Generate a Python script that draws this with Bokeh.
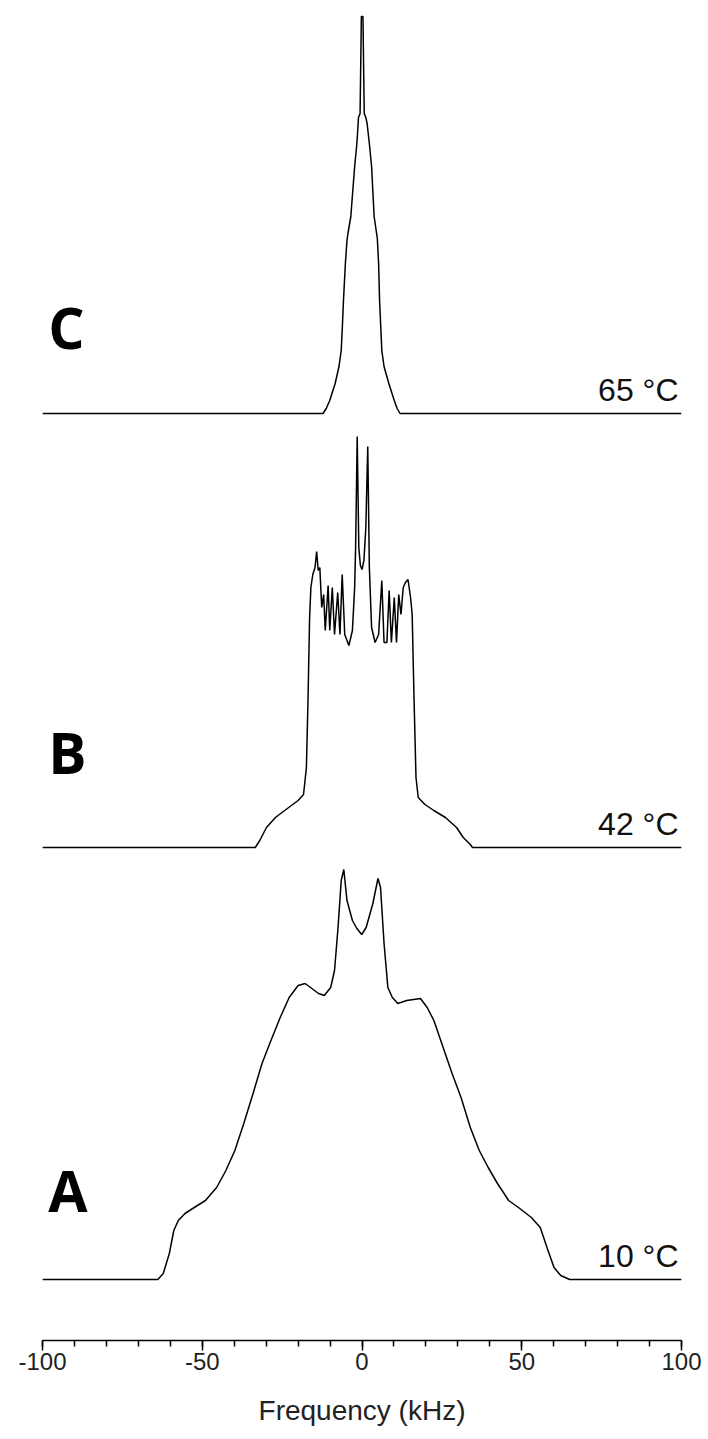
from bokeh.plotting import figure
from bokeh.embed import file_html
from bokeh.resources import INLINE
from bokeh.models import SingleIntervalTicker, Range1d
from bokeh.core.properties import value

# ---- data (frequency in kHz, intensity in arbitrary units) ----
freq_a = [-100, -63.9, -62.2, -60.3, -58.9, -57.5, -55.4, -52.5, -49.0, -45.5, -42.6, -39.8,
          -37.0, -34.1, -31.3, -28.5, -25.6, -22.8, -20.0, -17.8, -15.7, -13.6, -11.8, -9.8,
          -8.6, -7.5, -6.5, -5.7, -4.7, -3.0, -1.6, -0.1, 1.3, 3.4, 5.0, 5.8, 6.9, 8.1, 9.5,
          11.2, 14.0, 18.3, 20.4, 22.5, 25.4, 28.2, 31.0, 33.9, 36.7, 39.5, 42.4, 45.9, 49.4,
          53.0, 55.8, 57.9, 60.1, 62.2, 65.0, 100]
int_a = [0, 0, 6, 26, 49, 59, 66, 72, 79, 92, 109, 129,
         156, 186, 216, 239, 262, 282, 294, 296, 291, 286, 284, 292,
         309, 352, 399, 410, 379, 359, 351, 345, 352, 376, 401, 392, 336, 292, 282,
         276, 279, 281, 272, 259, 232, 206, 182, 152, 129, 112, 96, 79, 71,
         62, 52, 32, 12, 4, 0, 0]

freq_b = [-100, -33.4, -32.0, -29.9, -27.1, -24.2, -20.0, -18.3, -17.4, -16.9, -16.4, -16.0,
          -15.4, -14.7, -14.2, -13.7, -13.2, -12.6, -12.0, -11.5, -10.6, -10.1, -9.3, -8.6,
          -7.6, -6.9, -6.2, -5.4, -4.1, -3.0, -2.3, -2.0, -1.5, -1.0, -0.5, 0.0, 0.6, 1.2,
          1.8, 2.3, 3.0, 4.1, 5.2, 6.2, 6.9, 7.8, 8.5, 9.2, 10.1, 10.8, 11.5, 12.2, 12.9,
          13.6, 14.4, 15.2, 15.7, 16.3, 16.9, 17.6, 19.7, 22.5, 26.1, 29.6, 31.7, 33.9,
          34.6, 100]
int_b = [0, 0, 7, 20, 30, 37, 47, 53, 80, 147, 230, 260,
         273, 280, 296, 277, 280, 240, 253, 217, 262, 217, 260, 213,
         255, 213, 273, 213, 202, 217, 260, 300, 411, 300, 282, 278, 287, 320,
         401, 280, 220, 205, 213, 267, 205, 205, 257, 205, 250, 205, 253, 233, 260,
         265, 268, 250, 233, 147, 70, 50, 43, 37, 30, 20, 10, 3,
         0, 0]

freq_c = [-100, -12.2, -11.2, -10.1, -8.4, -7.2, -6.5, -6.1, -5.8, -5.2, -4.7, -4.4, -3.5,
          -2.3, -1.6, -1.3, -1.1, -0.6, -0.2, 0.3, 0.7, 1.2, 1.6, 2.3, 3.0, 3.8, 4.8, 5.2,
          5.5, 5.9, 6.2, 6.9, 8.4, 10.1, 11.0, 11.9, 100]
int_c = [0, 0, 5, 13, 30, 47, 63, 90, 113, 150, 173, 180, 197,
         247, 270, 285, 296, 300, 397, 397, 300, 296, 290, 270, 247, 197, 175, 150,
         113, 85, 63, 47, 30, 13, 5, 0, 0]

panel_letters = ["A", "B", "C"]
temperatures = ["10 °C", "42 °C", "65 °C"]
x_tick_labels = {-100: "-100", -50: "-50", 0: "0", 50: "50", 100: "100"}

# ---- layout (vertical offsets of each stacked spectrum) ----
offsets = [61, 493, 927]
letter_dy = [90, 96, 87]
temp_dy = 24

p = figure(width=708, height=1439, output_backend="svg", toolbar_location=None,
           x_range=Range1d(-100, 100), y_range=Range1d(0, 1340),
           min_border_left=42, min_border_right=27, min_border_top=0, min_border_bottom=99)
p.outline_line_color = None
p.xgrid.visible = False
p.ygrid.visible = False
p.yaxis.visible = False
p.background_fill_color = "white"
p.border_fill_color = "white"

for fx, iy, off in [(freq_a, int_a, offsets[0]), (freq_b, int_b, offsets[1]), (freq_c, int_c, offsets[2])]:
    p.line(list(fx), [off + v for v in iy], line_color="black", line_width=1.5)

for letter, off, dy in zip(panel_letters, offsets, letter_dy):
    p.text(x=[-98.2], y=[off + dy], text=[letter], text_font=value("Open Sans"),
           text_font_style="bold", text_font_size="57px", text_color="black",
           text_align="left", text_baseline="alphabetic")

for t, off in zip(temperatures, offsets):
    p.text(x=[100], y=[off + temp_dy], text=[t], text_font=value("Liberation Sans"),
           text_font_size="32px", text_color="#111111", x_offset=-3,
           text_align="right", text_baseline="alphabetic")

ax = p.xaxis[0]
ax.ticker = SingleIntervalTicker(interval=50, num_minor_ticks=5)
ax.major_label_overrides = x_tick_labels
ax.axis_label = "Frequency (kHz)"
ax.axis_label_text_font = "Liberation Sans"
ax.axis_label_text_font_style = "normal"
ax.axis_label_text_font_size = "28px"
ax.axis_label_text_color = "#222222"
ax.axis_label_standoff = 22
ax.major_label_text_font = "Liberation Sans"
ax.major_label_text_font_size = "24px"
ax.major_label_text_color = "#222222"
ax.major_label_standoff = 2
ax.axis_line_color = "black"
ax.axis_line_width = 1.5
ax.major_tick_line_color = "black"
ax.minor_tick_line_color = "black"
ax.major_tick_line_width = 1.5
ax.minor_tick_line_width = 1.5
ax.major_tick_out = 10
ax.major_tick_in = 0
ax.minor_tick_out = 6
ax.minor_tick_in = 0

open("out.html", "w").write(file_html(p, INLINE))
